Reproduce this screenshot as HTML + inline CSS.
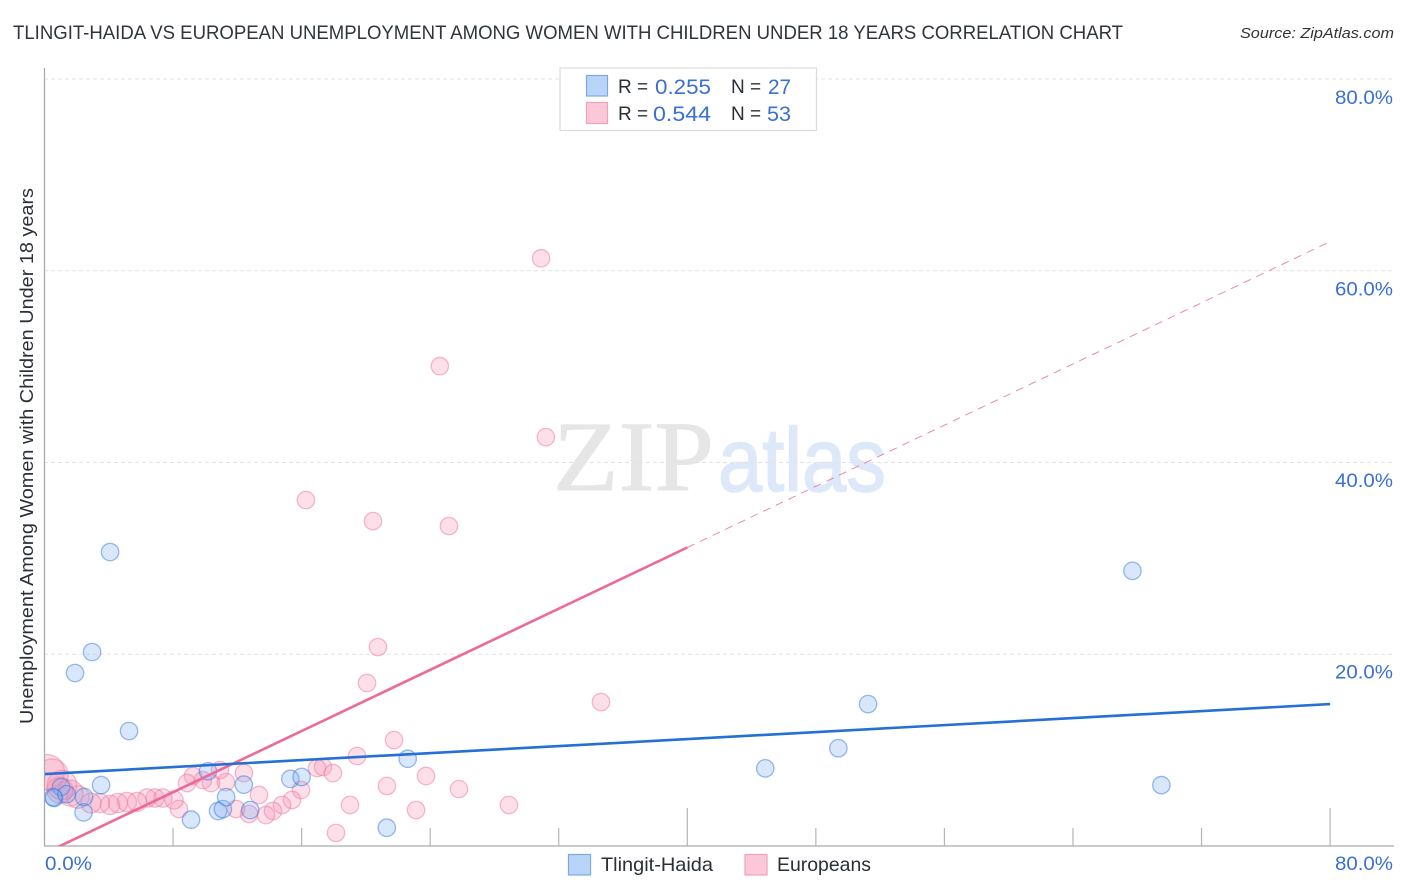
<!DOCTYPE html>
<html lang="en">
<head>
<meta charset="utf-8">
<title>Tlingit-Haida vs European Unemployment Chart</title>
<style>
html,body{margin:0;padding:0;background:#fff;width:1406px;height:892px;overflow:hidden}
svg{display:block;font-family:"Liberation Sans",sans-serif}
</style>
</head>
<body>
<svg id="chart" width="1406" height="892" viewBox="0 0 1406 892" xmlns="http://www.w3.org/2000/svg">
  <defs>
    <clipPath id="plot-clip"><rect x="45" y="60" width="1350" height="786"/></clipPath>
  </defs>
  <text x="13" y="39" font-size="19" fill="#2f343d" textLength="1110" lengthAdjust="spacingAndGlyphs">TLINGIT-HAIDA VS EUROPEAN UNEMPLOYMENT AMONG WOMEN WITH CHILDREN UNDER 18 YEARS CORRELATION CHART</text>
  <text x="1394" y="38" font-size="15" font-style="italic" fill="#333" text-anchor="end" textLength="154" lengthAdjust="spacingAndGlyphs">Source: ZipAtlas.com</text>

  <g>
    <text x="553" y="490" font-family="'Liberation Serif',serif" font-size="100" fill="#e6e6e6" stroke="#e6e6e6" stroke-width="1" textLength="161" lengthAdjust="spacingAndGlyphs">ZIP</text>
    <text x="718" y="491" font-size="90" fill="#dde8f8" stroke="#dde8f8" stroke-width="1.5" textLength="168" lengthAdjust="spacingAndGlyphs">atlas</text>
  </g>

  <g id="grid"></g>
  <g id="axes"></g>
  <g id="marks" clip-path="url(#plot-clip)"></g>
  <g id="lines" clip-path="url(#plot-clip)"></g>

  <text transform="translate(33,456) rotate(-90)" font-size="18" fill="#2a2f38" text-anchor="middle" textLength="536" lengthAdjust="spacingAndGlyphs">Unemployment Among Women with Children Under 18 years</text>

  <g>
    <rect x="560" y="68" width="256.5" height="62.5" fill="#fff" stroke="#dcdcdc" stroke-width="1.2"/>
    <rect x="586.5" y="75.5" width="21" height="20.5" fill="#b9d4f9" stroke="#7ea9e0" stroke-width="1.2"/>
    <text x="618" y="93" font-size="19" fill="#2a2f38">R =</text>
    <text x="655" y="94" font-size="21" fill="#3a70d0" textLength="56" lengthAdjust="spacingAndGlyphs">0.255</text>
    <text x="731" y="93" font-size="19" fill="#2a2f38">N =</text>
    <text x="768" y="94" font-size="21" fill="#3a70d0" textLength="23" lengthAdjust="spacingAndGlyphs">27</text>
    <rect x="586.5" y="102.5" width="21" height="21" fill="#fcc7d9" stroke="#f0a2bd" stroke-width="1.2"/>
    <text x="618" y="120" font-size="19" fill="#2a2f38">R =</text>
    <text x="653" y="121" font-size="21" fill="#3a70d0" textLength="58" lengthAdjust="spacingAndGlyphs">0.544</text>
    <text x="731" y="120" font-size="19" fill="#2a2f38">N =</text>
    <text x="767" y="121" font-size="21" fill="#3a70d0" textLength="24" lengthAdjust="spacingAndGlyphs">53</text>
  </g>

  <g>
    <rect x="568.5" y="854.5" width="22" height="20.5" fill="#b9d4f9" stroke="#7ea9e0" stroke-width="1.2"/>
    <text x="601" y="871" font-size="19.5" fill="#2a2f38" textLength="112" lengthAdjust="spacingAndGlyphs">Tlingit-Haida</text>
    <rect x="745" y="854.5" width="22" height="20.5" fill="#fcc7d9" stroke="#f0a2bd" stroke-width="1.2"/>
    <text x="777" y="871" font-size="19.5" fill="#2a2f38" textLength="94" lengthAdjust="spacingAndGlyphs">Europeans</text>
  </g>
</svg>
<script>
const yTickValues = [20, 40, 60, 80];
const yTickLabels = ["20.0%", "40.0%", "60.0%", "80.0%"];
const xTickValues = [0, 8, 16, 24, 32, 40, 48, 56, 64, 72, 80];
const xMajorTicks = [40, 80];
const xEndLabels = ["0.0%", "80.0%"];

const tlingitX = [4.08, 2.96, 1.90, 5.26, 0.60, 1.03, 1.38, 2.46, 2.43, 3.52, 9.12, 10.17, 10.80, 11.10, 11.30, 12.40, 12.80, 15.30, 16.00, 22.60, 21.30, 44.85, 49.40, 51.25, 67.70, 69.50, 0.55];
const tlingitY = [30.66, 20.23, 18.04, 11.99, 5.00, 6.15, 5.40, 5.10, 3.50, 6.35, 2.75, 7.80, 3.65, 3.85, 5.10, 6.40, 3.75, 7.00, 7.20, 9.10, 1.90, 8.10, 10.20, 14.80, 28.70, 6.35, 5.10];

const europeanX = [30.9, 24.6, 31.2, 16.27, 20.44, 25.17, 20.75, 20.07, 34.63, 21.75, 19.45, 16.96, 17.33, 17.95, 15.96, 19.01, 21.31, 23.74, 23.12, 25.79, 28.9, 18.14, 15.4, 14.78, 14.22, 13.78, 12.73, 11.92, 13.35, 12.41, 11.29, 10.92, 10.36, 9.86, 9.24, 8.87, 8.37, 8.06, 7.37, 6.88, 6.38, 5.76, 5.13, 4.57, 4.08, 3.45, 2.89, 2.08, 1.59, 0.96, 1.09, 0.47, 0.16];
const europeanY = [61.3, 50.05, 42.65, 36.08, 33.89, 33.37, 20.75, 17.0, 15.02, 11.05, 9.38, 8.13, 8.24, 7.61, 5.84, 4.28, 6.26, 7.3, 3.75, 5.94, 4.28, 1.36, 4.8, 4.28, 3.65, 3.23, 3.34, 3.86, 5.32, 7.61, 6.67, 7.92, 6.57, 6.88, 7.3, 6.57, 3.86, 4.8, 5.0, 5.0, 5.0, 4.59, 4.59, 4.48, 4.28, 4.48, 4.48, 5.11, 5.53, 5.84, 6.36, 7.4, 7.72];
const europeanWeight = [1, 1, 1, 1, 1, 1, 1, 1, 1, 1, 1, 1, 1, 1, 1, 1, 1, 1, 1, 1, 1, 1, 1, 1, 1, 1, 1, 1, 1, 1, 1, 1, 1, 1, 1, 1, 1, 1.05, 1.05, 1.05, 1.05, 1.1, 1.1, 1.1, 1.1, 1.1, 1.15, 1.3, 1.5, 1.5, 1.7, 1.85, 2.0];

const tlingitTrend = [7.5, 14.8];
const europeanTrend = [-0.77, 63.04];
const europeanSolidEnd = 40;

const SVG_NS = "http://www.w3.org/2000/svg";
const xScale = v => 44.5 + v * 16.07;
const yScale = v => 846 - v * 9.5875;

function make(tag, attrs, parent) {
  const el = document.createElementNS(SVG_NS, tag);
  for (const k in attrs) el.setAttribute(k, attrs[k]);
  parent.appendChild(el);
  return el;
}

const grid = document.getElementById("grid");
const axes = document.getElementById("axes");
const marks = document.getElementById("marks");
const lines = document.getElementById("lines");

yTickValues.forEach((v, i) => {
  const g = make("line", {x1: 44, x2: 1394, y1: yScale(v), y2: yScale(v), stroke: "#e2e2e2", "stroke-width": 1, "stroke-dasharray": "4 3"}, grid);
  
  
  const t = make("text", {x: 1393, y: yScale(v) + 24 + v / 80, "font-size": 19, fill: "#3a70d0", "text-anchor": "end", textLength: 58, lengthAdjust: "spacingAndGlyphs"}, axes);
  t.textContent = yTickLabels[i];
  
  
});

const yAxis = make("line", {x1: 44.5, x2: 44.5, y1: 68, y2: 846, stroke: "#aaa", "stroke-width": 1.3}, axes);


const xAxis = make("line", {x1: 44, x2: 1394, y1: 846, y2: 846, stroke: "#aaa", "stroke-width": 1.3}, axes);



xTickValues.slice(1).forEach(v => {
  const top = xMajorTicks.includes(v) ? 808 : 828;
  const tick = make("line", {x1: xScale(v), x2: xScale(v), y1: top, y2: 846, stroke: "#b5b5b5", "stroke-width": 1.2}, axes);
  
  
});

const xLabelStart = make("text", {x: 45, y: 870, "font-size": 19, fill: "#3a70d0", textLength: 47, lengthAdjust: "spacingAndGlyphs"}, axes);
xLabelStart.textContent = xEndLabels[0];


const xLabelEnd = make("text", {x: 1393, y: 870, "font-size": 19, fill: "#3a70d0", "text-anchor": "end", textLength: 58, lengthAdjust: "spacingAndGlyphs"}, axes);
xLabelEnd.textContent = xEndLabels[1];



europeanX.forEach((v, i) => {
  const c = make("circle", {cx: xScale(v), cy: yScale(europeanY[i]), r: 8.7 * europeanWeight[i], fill: "rgba(247,140,175,0.28)", stroke: "rgba(236,120,160,0.5)", "stroke-width": 1.3}, marks);
  
  
});

tlingitX.forEach((v, i) => {
  const c = make("circle", {cx: xScale(v), cy: yScale(tlingitY[i]), r: 8.7, fill: "rgba(120,170,240,0.28)", stroke: "rgba(55,120,220,0.5)", "stroke-width": 1.3}, marks);
  
  
});

const europeanAt = x => europeanTrend[0] + (europeanTrend[1] - europeanTrend[0]) * x / 80;
const tlingitAt = x => tlingitTrend[0] + (tlingitTrend[1] - tlingitTrend[0]) * x / 80;

const eDash = make("line", {x1: xScale(europeanSolidEnd), y1: yScale(europeanAt(europeanSolidEnd)), x2: xScale(80), y2: yScale(europeanAt(80)), stroke: "#ec6a9b", "stroke-width": 1, "stroke-dasharray": "8 6", opacity: 0.8}, lines);


const eSolid = make("line", {x1: xScale(0), y1: yScale(europeanAt(0)), x2: xScale(europeanSolidEnd), y2: yScale(europeanAt(europeanSolidEnd)), stroke: "#ec6a9b", "stroke-width": 2.6}, lines);


const tSolid = make("line", {x1: xScale(0), y1: yScale(tlingitAt(0)), x2: xScale(80), y2: yScale(tlingitAt(80)), stroke: "#2470d6", "stroke-width": 2.6}, lines);


</script>
</body>
</html>
